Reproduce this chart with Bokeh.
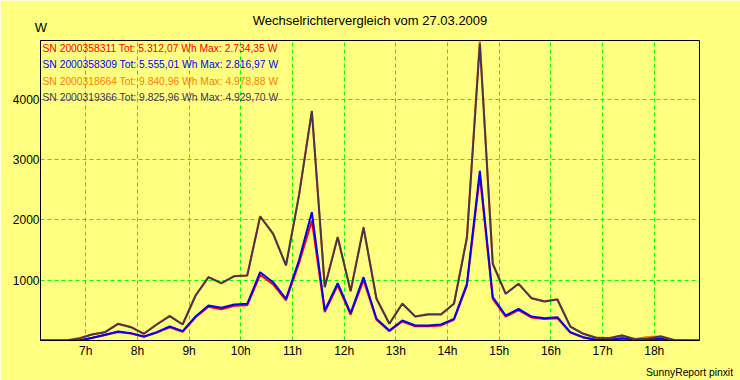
from bokeh.plotting import figure
from bokeh.models import Range1d, FixedTicker, Label, ColumnDataSource
from bokeh.embed import file_html
from bokeh.resources import INLINE

# ---------------- data ----------------
title_text = "Wechselrichtervergleich vom 27.03.2009"
unit_label = "W"
footer_text = "SunnyReport pinxit"

times = [6.125, 6.375, 6.625, 6.875, 7.125, 7.375, 7.625, 7.875, 8.125, 8.375,
         8.625, 8.875, 9.125, 9.375, 9.625, 9.875, 10.125, 10.375, 10.625, 10.875,
         11.125, 11.375, 11.625, 11.875, 12.125, 12.375, 12.625, 12.875, 13.125, 13.375,
         13.625, 13.875, 14.125, 14.375, 14.625, 14.875, 15.125, 15.375, 15.625, 15.875,
         16.125, 16.375, 16.625, 16.875, 17.125, 17.375, 17.625, 17.875, 18.125, 18.375,
         18.625, 18.875]

series_names = ["SN 2000358311", "SN 2000358309", "SN 2000318664", "SN 2000319366"]
series_tot = ["5.312,07", "5.555,01", "9.840,96", "9.825,96"]
series_max = ["2.734,35", "2.816,97", "4.978,88", "4.929,70"]
series_colors = ["#FF0000", "#0000FF", "#FF8000", "#4A3352"]

red_vals = [0, 0, 0, 0, 40, 90, 140, 115, 60, 130,
            220, 145, 385, 560, 520, 575, 585, 1090, 930, 665,
            1280, 1990, 470, 915, 430, 1000, 345, 155, 315, 235,
            235, 250, 345, 905, 2734, 690, 395, 505, 380, 355,
            370, 130, 50, 8, 8, 33, 12, 12, 25, 0,
            0, 0]
blue_vals = [0, 0, 0, 0, 45, 95, 150, 122, 66, 138,
             232, 155, 398, 581, 542, 598, 609, 1134, 968, 692,
             1328, 2130, 498, 951, 453, 1051, 360, 166, 332, 249,
             249, 266, 360, 941, 2817, 719, 415, 526, 398, 370,
             387, 138, 55, 11, 11, 38, 15, 15, 28, 0,
             0, 0]
orange_vals = [0, 0, 0, 40, 105, 140, 275, 225, 115, 270,
               410, 270, 745, 1050, 950, 1070, 1080, 2065, 1780, 1250,
               2410, 3810, 890, 1720, 820, 1890, 700, 280, 615, 400,
               440, 440, 615, 1720, 4978.88, 1280, 780, 945, 705, 650,
               685, 235, 115, 48, 40, 85, 25, 60, 70, 12,
               0, 0]
dark_vals = [0, 0, 0, 35, 100, 138, 277, 221, 111, 266,
             404, 266, 747, 1051, 951, 1067, 1079, 2058, 1771, 1245,
             2400, 3806, 885, 1715, 818, 1871, 692, 277, 609, 398,
             432, 432, 609, 1700, 4930, 1273, 775, 941, 700, 647,
             680, 232, 111, 45, 38, 83, 22, 33, 66, 10,
             0, 0]

x_ticks = [7, 8, 9, 10, 11, 12, 13, 14, 15, 16, 17, 18]
x_tick_labels = ["7h", "8h", "9h", "10h", "11h", "12h", "13h", "14h", "15h", "16h", "17h", "18h"]
y_ticks = [1000, 2000, 3000, 4000]
x_min, x_max = 6.125, 18.875
y_min, y_max = 0, 4978.88

# ---------------- layout ----------------
BG = "#FFFF80"
W, H = 740, 380
FL, FT, FR, FB = 40, 40, 699, 340   # frame in figure pixels
FONT = "Liberation Sans"

p = figure(width=W, height=H, output_backend="svg", toolbar_location=None, title=None,
           x_range=Range1d(x_min, x_max), y_range=Range1d(y_min, y_max),
           min_border_left=FL, min_border_right=W - FR, min_border_top=FT,
           min_border_bottom=H - FB,
           background_fill_color=BG, border_fill_color=BG,
           outline_line_color="black", outline_line_width=1)

p.xaxis.ticker = FixedTicker(ticks=x_ticks)
p.xaxis.major_label_overrides = {t: lab for t, lab in zip(x_ticks, x_tick_labels)}
p.yaxis.ticker = FixedTicker(ticks=y_ticks)
for ax in p.axis:
    ax.major_tick_in = 0
    ax.major_tick_out = 0
    ax.minor_tick_in = 0
    ax.minor_tick_out = 0
    ax.axis_line_color = "black"
    ax.major_label_text_font = FONT
    ax.major_label_text_font_size = "12px"
    ax.major_label_text_color = "black"
p.yaxis.major_label_standoff = 1
p.xaxis.major_label_standoff = 3

p.grid.grid_line_color = "#00FF00"
p.grid.grid_line_dash = "4 3"
p.grid.grid_line_width = 1

src = ColumnDataSource(dict(t=times, red=red_vals, blue=blue_vals,
                            orange=orange_vals, dark=dark_vals))
for col, c in zip(["red", "blue", "orange", "dark"], series_colors):
    p.line("t", col, source=src, line_color=c, line_width=2)

# pixel (figure coords) -> data helpers for text placement
def dx(px):
    return x_min + (px - FL) / (FR - FL) * (x_max - x_min)

def dy(py):
    return y_min + (FB - py) / (FB - FT) * (y_max - y_min)

def make_label(px, py, text, size, color="black", align="left"):
    return Label(x=dx(px), y=dy(py), text=text, text_font=FONT,
                 text_font_size=size, text_color=color, text_align=align,
                 text_baseline="middle")

# texts outside the frame go into side panels so they are not clipped
p.add_layout(make_label(369.5, 20, title_text, "13px", align="center"), "above")
p.add_layout(make_label(40.5, 26.5, unit_label, "13px", align="center"), "above")
p.add_layout(make_label(732.5, 371.5, footer_text, "10.3px", align="right"), "below")

rows_y = [47.5, 64, 80.5, 97]
for name, tot, mx, c, ry in zip(series_names, series_tot, series_max, series_colors, rows_y):
    p.add_layout(make_label(42, ry, f"{name} Tot: {tot} Wh Max: {mx} W", "10.3px", color=c))

open("out.html", "w").write(file_html(p, INLINE))
